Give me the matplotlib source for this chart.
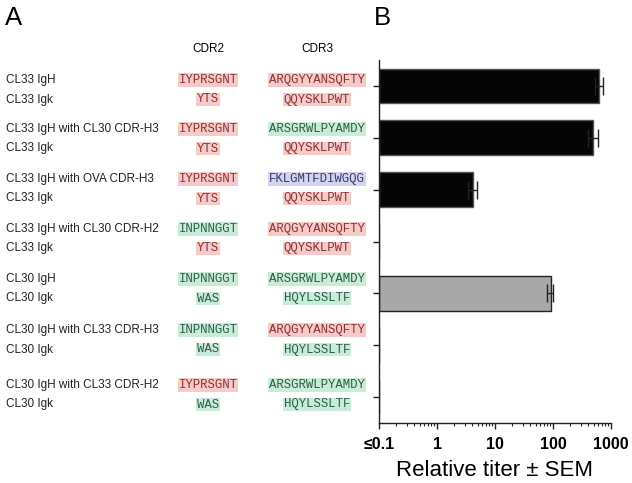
import matplotlib.pyplot as plt
import numpy as np

# constructs (rows of panel A, one bar each in panel B)
heavy = ["CL33 IgH", "CL33 IgH with CL30 CDR-H3", "CL33 IgH with OVA CDR-H3",
         "CL33 IgH with CL30 CDR-H2", "CL30 IgH", "CL30 IgH with CL33 CDR-H3",
         "CL30 IgH with CL33 CDR-H2"]
light = ["CL33 Igk", "CL33 Igk", "CL33 Igk", "CL33 Igk",
         "CL30 Igk", "CL30 Igk", "CL30 Igk"]

# (sequence, origin) for CDR2 / CDR3 of heavy and light chains
h_cdr2 = [("IYPRSGNT", "CL33"), ("IYPRSGNT", "CL33"), ("IYPRSGNT", "CL33"),
          ("INPNNGGT", "CL30"), ("INPNNGGT", "CL30"), ("INPNNGGT", "CL30"),
          ("IYPRSGNT", "CL33")]
h_cdr3 = [("ARQGYYANSQFTY", "CL33"), ("ARSGRWLPYAMDY", "CL30"),
          ("FKLGMTFDIWGQG", "OVA"), ("ARQGYYANSQFTY", "CL33"),
          ("ARSGRWLPYAMDY", "CL30"), ("ARQGYYANSQFTY", "CL33"),
          ("ARSGRWLPYAMDY", "CL30")]
k_cdr2 = [("YTS", "CL33")] * 4 + [("WAS", "CL30")] * 3
k_cdr3 = [("QQYSKLPWT", "CL33")] * 4 + [("HQYLSSLTF", "CL30")] * 3

# relative titer (<=0.1 means not detected) and SEM
titer = [630, 495, 4.1, 0.1, 91, 0.1, 0.1]
sem = [90, 100, 0.7, 0, 11, 0, 0]
floor = 0.1

tick_vals = [0.1, 1, 10, 100, 1000]
tick_labels = ["≤0.1", "1", "10", "100", "1000"]

box_colors = {"CL33": ("#f7caca", "#8a3434"),
              "CL30": ("#c9ecd8", "#2e5e48"),
              "OVA": ("#d4d4ee", "#3a3a6e")}

W, H = 632, 483
fig = plt.figure(figsize=(W / 100, H / 100), dpi=100)
plt.rcParams["font.family"] = ["Liberation Sans", "DejaVu Sans"]


def fx(px):
    return px / W


def fy(py):
    return 1 - py / H


# panel letters
fig.text(fx(5), fy(25), "A", fontsize=18.5, va="baseline")
fig.text(fx(374), fy(25), "B", fontsize=18.5, va="baseline")

# panel A: table of sequences
fig.text(fx(208), fy(49), "CDR2", fontsize=8.5, ha="center", va="center")
fig.text(fx(317), fy(49), "CDR3", fontsize=8.5, ha="center", va="center")

row_px = [80, 129, 179, 229, 279, 330, 385]
line_gap = 19.5


def seq(x, y, item):
    s, origin = item
    bg, fg = box_colors[origin]
    fig.text(fx(x), fy(y), s, fontsize=8.9, family="Liberation Mono",
             ha="center", va="center", color=fg,
             bbox=dict(boxstyle="square,pad=0.07", fc=bg, ec="none"))


for i, y in enumerate(row_px):
    fig.text(fx(6), fy(y), heavy[i], fontsize=8.5, va="center", color="#222222")
    fig.text(fx(6), fy(y + line_gap), light[i], fontsize=8.5, va="center",
             color="#222222")
    seq(208, y, h_cdr2[i])
    seq(317, y, h_cdr3[i])
    seq(208, y + line_gap, k_cdr2[i])
    seq(317, y + line_gap, k_cdr3[i])

# panel B: bar chart
ax = fig.add_axes([fx(379), 1 - 423 / H, (611 - 379) / W, (423 - 60) / H])
ypos = np.arange(len(titer))
vals = np.array(titer)
colors = ["#a8a8a8" if h.startswith("CL30") else "#050505" for h in heavy]
edges = ["#222222" if c == "#a8a8a8" else "#555555" for c in colors]
ax.barh(ypos, vals - floor, left=floor, height=0.67, color=colors,
        edgecolor=edges, linewidth=1.0)
for i in range(len(titer)):
    if sem[i] > 0:
        ax.errorbar(titer[i], ypos[i], xerr=sem[i], fmt="none", ecolor="#222222",
                    elinewidth=1, capsize=6.5, capthick=1)

ax.set_xscale("log")
ax.set_xlim(0.1, 1000)
ax.set_ylim(6.5, -0.5)
ax.set_yticks(ypos)
ax.set_yticklabels([])
ax.set_xticks(tick_vals)
ax.set_xticklabels(tick_labels, fontweight="bold", fontsize=11.5)
ax.tick_params(axis="y", length=4, width=1, color="#222222")
ax.tick_params(axis="x", which="major", length=4, width=1, pad=6, color="#222222")
ax.tick_params(axis="x", which="minor", length=2.5, width=0.8, color="#222222")
ax.spines["top"].set_visible(False)
ax.spines["right"].set_visible(False)
for sp in ("left", "bottom"):
    ax.spines[sp].set_linewidth(1)
    ax.spines[sp].set_color("#222222")
ax.set_xlabel("Relative titer ± SEM", fontsize=16, labelpad=5.5)

fig.savefig("out.png", dpi=100)
